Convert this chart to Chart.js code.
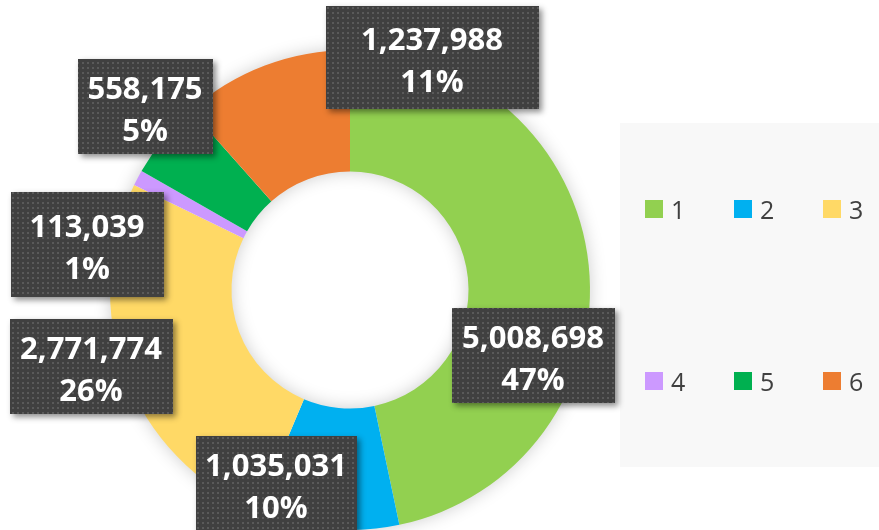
<!DOCTYPE html>
<html>
<head>
    <meta charset="UTF-8">
    <title>Doughnut</title>
    <script src="https://cdn.jsdelivr.net/npm/chart.js@4.4.0/dist/chart.umd.min.js"></script>
    <style>
        body { margin: 0; background: #fff; }
    </style>
</head>
<body>
    <canvas id="myChart" width="879" height="530"></canvas>

    <script>
        const categories = ['1', '2', '3', '4', '5', '6'];
        const values = [5008698, 1035031, 2771774, 113039, 558175, 1237988];
        const pctLabels = ['47%', '10%', '26%', '1%', '5%', '11%'];
        const colors = ['#92D050', '#00B0F0', '#FFD966', '#CC99FF', '#00B050', '#ED7D31'];

        // callout boxes: box centre relative to the doughnut centre, and box size
        const callouts = [
            { dx: 183, dy: 65, w: 163, h: 95 },
            { dx: -74, dy: 193, w: 161, h: 95 },
            { dx: -259, dy: 76, w: 163, h: 95 },
            { dx: -263, dy: -46, w: 153, h: 105 },
            { dx: -205, dy: -184, w: 135, h: 95 },
            { dx: 82, dy: -233, w: 213, h: 103 }
        ];

        // dotted dark fill used by the callouts
        function makePattern(ctx) {
            const tile = document.createElement('canvas');
            tile.width = 5;
            tile.height = 5;
            const t = tile.getContext('2d');
            t.fillStyle = '#404040';
            t.fillRect(0, 0, 5, 5);
            t.fillStyle = '#5a5a5a';
            t.fillRect(2, 2, 2, 2);
            return ctx.createPattern(tile, 'repeat');
        }

        const ringShadow = {
            id: 'ringShadow',
            beforeDatasetsDraw(chart) {
                const arc = chart.getDatasetMeta(0).data[0];
                const { x, y, outerRadius, innerRadius } = arc.getProps(['x', 'y', 'outerRadius', 'innerRadius'], true);
                const ctx = chart.ctx;
                ctx.save();
                ctx.shadowColor = 'rgba(0,0,0,0.22)';
                ctx.shadowBlur = 18;
                ctx.fillStyle = '#ffffff';
                ctx.beginPath();
                ctx.arc(x, y, outerRadius - 1, 0, Math.PI * 2);
                ctx.arc(x, y, innerRadius + 1, 0, Math.PI * 2, true);
                ctx.fill();
                ctx.restore();
            }
        };

        const legendPanel = {
            id: 'legendPanel',
            beforeDraw(chart) {
                const ctx = chart.ctx;
                ctx.save();
                ctx.fillStyle = '#F8F8F8';
                ctx.fillRect(620, 123, 259, 344);
                ctx.font = '25px "Open Sans"';
                ctx.textBaseline = 'alphabetic';
                const ds = chart.data.datasets[0];
                chart.data.labels.forEach((lab, i) => {
                    const col = i % 3, row = Math.floor(i / 3);
                    const x = 645 + col * 89;
                    const y = 200 + row * 172;
                    ctx.fillStyle = ds.backgroundColor[i];
                    ctx.fillRect(x, y, 18, 18);
                    ctx.fillStyle = '#404040';
                    ctx.fillText(lab, x + 26, y + 19);
                });
                ctx.restore();
            }
        };

        const calloutLabels = {
            id: 'calloutLabels',
            afterDraw(chart) {
                const ctx = chart.ctx;
                const meta = chart.getDatasetMeta(0);
                const pattern = makePattern(ctx);
                meta.data.forEach((arc, i) => {
                    const c = callouts[i];
                    const cx = arc.x + c.dx, cy = arc.y + c.dy;
                    const left = Math.round(cx - c.w / 2), top = Math.round(cy - c.h / 2);
                    ctx.save();
                    ctx.shadowColor = 'rgba(0,0,0,0.45)';
                    ctx.shadowBlur = 6;
                    ctx.shadowOffsetX = 3;
                    ctx.shadowOffsetY = 3;
                    ctx.fillStyle = '#404040';
                    ctx.fillRect(left, top, c.w, c.h);
                    ctx.restore();
                    ctx.save();
                    ctx.fillStyle = pattern;
                    ctx.fillRect(left, top, c.w, c.h);
                    ctx.fillStyle = '#ffffff';
                    ctx.font = 'bold 31px "Open Sans"';
                    ctx.textAlign = 'center';
                    ctx.textBaseline = 'alphabetic';
                    ctx.fillText(values[i].toLocaleString('en-US'), cx, cy - 7);
                    ctx.fillText(pctLabels[i], cx, cy + 35);
                    ctx.restore();
                });
            }
        };

        const ctx = document.getElementById('myChart').getContext('2d');
        new Chart(ctx, {
            type: 'doughnut',
            data: {
                labels: categories,
                datasets: [{
                    data: values,
                    backgroundColor: colors,
                    borderWidth: 0,
                    hoverBorderWidth: 0,
                    hoverOffset: 0,
                    offset: 0
                }]
            },
            options: {
                responsive: false,
                animation: false,
                events: [],
                radius: 240,
                cutout: 118.5,
                layout: { padding: { left: 110, right: 289, top: 50, bottom: 0 } },
                plugins: {
                    legend: { display: false },
                    tooltip: { enabled: false }
                }
            },
            plugins: [legendPanel, ringShadow, calloutLabels]
        });
    </script>
</body>
</html>
